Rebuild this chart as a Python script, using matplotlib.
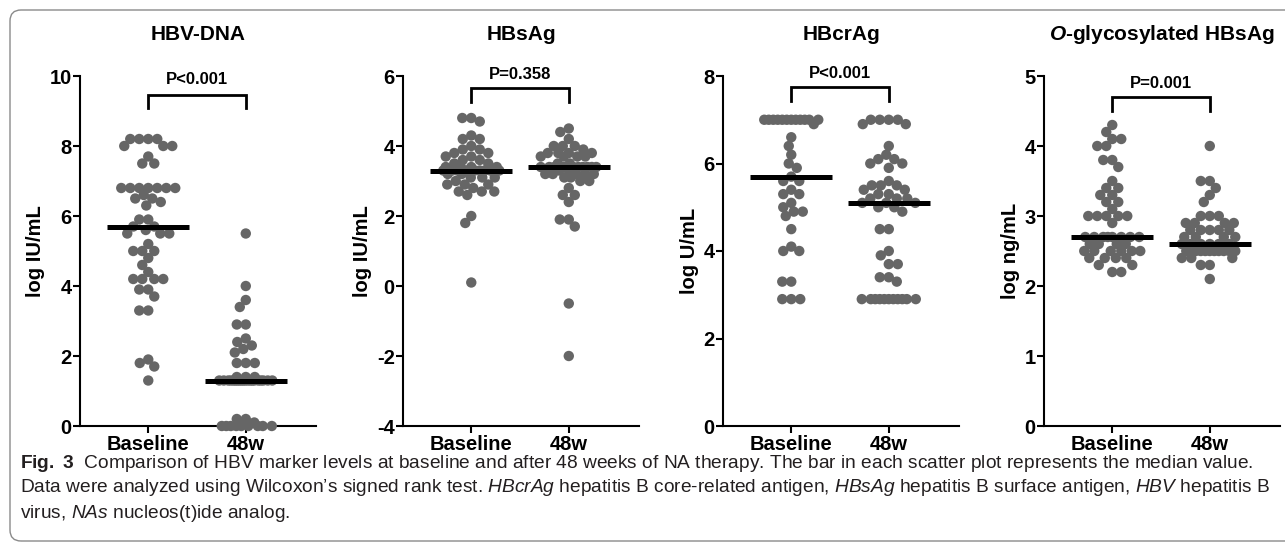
import numpy as np
import matplotlib
matplotlib.use('Agg')
import matplotlib.pyplot as plt
from matplotlib import font_manager
from matplotlib.patches import FancyBboxPatch
from matplotlib.transforms import IdentityTransform, blended_transform_factory

# ---- data ----
groups = ['Baseline', '48w']

titles = ['HBV-DNA', 'HBsAg', 'HBcrAg', r'$\mathbfit{O}$-glycosylated HBsAg']
ylabels = ['log IU/mL', 'log IU/mL', 'log U/mL', 'log ng/mL']
p_labels = ['P<0.001', 'P=0.358', 'P<0.001', 'P=0.001']

hbv_base = [8.2, 8.2, 8.2, 8.2, 8.0, 8.0, 8.0, 7.7, 7.5, 7.5,
            6.8, 6.8, 6.8, 6.8, 6.8, 6.8, 6.8, 6.6, 6.5, 6.5,
            6.4, 6.3, 5.9, 5.9, 5.7, 5.7, 5.6, 5.5, 5.5, 5.5,
            5.2, 5.0, 5.0, 5.0, 4.8, 4.6, 4.4, 4.2, 4.2, 4.2,
            4.2, 3.9, 3.9, 3.7, 3.3, 3.3, 1.9, 1.8, 1.7, 1.3]
hbv_48w = [5.5, 4.0, 3.6, 3.4, 2.9, 2.9, 2.5, 2.4, 2.3, 2.2,
           2.1, 1.8, 1.8, 1.8, 1.4, 1.4, 1.4, 1.3, 1.3, 1.3,
           1.3, 1.3, 1.3, 1.3, 1.3, 1.3, 1.3, 1.3, 1.3, 1.3,
           1.3, 1.3, 1.3, 1.3, 1.3, 1.3, 1.3, 0.2, 0.2, 0.1,
           0.0, 0.0, 0.0, 0.0, 0.0, 0.0, 0.0, 0.0, 0.0]

hbsag_base = [4.8, 4.8, 4.7, 4.3, 4.2, 4.2, 4.0, 3.9, 3.9, 3.8,
              3.8, 3.7, 3.7, 3.6, 3.6, 3.5, 3.5, 3.4, 3.4, 3.4,
              3.4, 3.3, 3.3, 3.3, 3.3, 3.3, 3.3, 3.3, 3.3, 3.3,
              3.2, 3.2, 3.1, 3.1, 3.1, 3.0, 2.9, 2.9, 2.9, 2.8,
              2.7, 2.7, 2.7, 2.6, 2.0, 1.8, 0.1]
hbsag_48w = [4.5, 4.4, 4.2, 4.0, 4.0, 4.0, 3.9, 3.8, 3.8, 3.8,
             3.8, 3.7, 3.7, 3.7, 3.7, 3.5, 3.5, 3.4, 3.4, 3.4,
             3.4, 3.4, 3.4, 3.4, 3.4, 3.4, 3.4, 3.3, 3.3, 3.2,
             3.2, 3.2, 3.2, 3.2, 3.1, 3.1, 3.0, 3.0, 2.8, 2.6,
             2.6, 2.4, 1.9, 1.9, 1.7, -0.5, -2.0]

hbcrag_base = [7.0, 7.0, 7.0, 7.0, 7.0, 7.0, 7.0, 7.0, 7.0, 7.0,
               7.0, 7.0, 6.9, 6.6, 6.4, 6.2, 6.0, 5.9, 5.7, 5.6,
               5.6, 5.4, 5.3, 5.3, 5.1, 5.0, 4.9, 4.9, 4.8, 4.5,
               4.1, 4.0, 4.0, 3.3, 3.3, 2.9, 2.9, 2.9]
hbcrag_48w = [7.0, 7.0, 7.0, 7.0, 6.9, 6.9, 6.4, 6.2, 6.1, 6.1,
              6.0, 6.0, 5.9, 5.6, 5.5, 5.5, 5.5, 5.4, 5.4, 5.3,
              5.3, 5.2, 5.2, 5.2, 5.1, 5.1, 5.1, 5.0, 5.0, 4.9,
              4.5, 4.5, 4.0, 3.9, 3.7, 3.7, 3.4, 3.4, 3.3, 2.9,
              2.9, 2.9, 2.9, 2.9, 2.9, 2.9, 2.9, 2.9, 2.9, 2.9]

oglyco_base = [4.3, 4.2, 4.1, 4.1, 4.0, 4.0, 3.8, 3.8, 3.7, 3.5,
               3.4, 3.4, 3.3, 3.3, 3.2, 3.2, 3.1, 3.0, 3.0, 3.0,
               3.0, 3.0, 2.9, 2.7, 2.7, 2.7, 2.7, 2.7, 2.7, 2.7,
               2.7, 2.6, 2.6, 2.6, 2.6, 2.5, 2.5, 2.5, 2.5, 2.5,
               2.5, 2.4, 2.4, 2.4, 2.4, 2.3, 2.3, 2.2, 2.2]
oglyco_48w = [4.0, 3.5, 3.5, 3.4, 3.3, 3.2, 3.0, 3.0, 3.0, 2.9,
              2.9, 2.9, 2.9, 2.8, 2.8, 2.8, 2.8, 2.8, 2.7, 2.7,
              2.7, 2.7, 2.6, 2.6, 2.6, 2.6, 2.6, 2.6, 2.5, 2.5,
              2.5, 2.5, 2.5, 2.5, 2.5, 2.5, 2.5, 2.5, 2.4, 2.4,
              2.4, 2.3, 2.3, 2.1]

medians = [(5.7, 1.3), (3.3, 3.4), (5.7, 5.1), (2.7, 2.6)]
series = [(hbv_base, hbv_48w), (hbsag_base, hbsag_48w),
          (hbcrag_base, hbcrag_48w), (oglyco_base, oglyco_48w)]
ylims = [(0, 10), (-4, 6), (0, 8), (0, 5)]
ysteps = [2, 2, 2, 1]

caption = [
    r"$\mathbf{Fig.\ 3}$  Comparison of HBV marker levels at baseline and after 48 weeks of NA therapy. "
    r"The bar in each scatter plot represents the median value.",
    r"Data were analyzed using Wilcoxon’s signed rank test. $\mathit{HBcrAg}$ hepatitis B core-related antigen, "
    r"$\mathit{HBsAg}$ hepatitis B surface antigen, $\mathit{HBV}$ hepatitis B",
    r"virus, $\mathit{NAs}$ nucleos(t)ide analog.",
]


def pick_font(names):
    for n in names:
        try:
            font_manager.findfont(font_manager.FontProperties(family=n), fallback_to_default=False)
            return n
        except ValueError:
            continue
    return 'DejaVu Sans'


def swarm_x(ax, center, values, step=9.0, half_width=28):
    # prism-like dot layout, done in pixel space
    vals = np.asarray(values, dtype=float)
    tr = ax.transData
    ypix = tr.transform(np.column_stack([np.full(vals.size, center), vals]))[:, 1]
    x0 = tr.transform([[center, 0]])[0, 0]
    cands = np.arange(-half_width, half_width + 0.01, 0.5)
    cands = cands[np.argsort(np.abs(cands), kind='stable')]
    offs = np.zeros(vals.size)
    done = []
    for i in np.argsort(-vals, kind='stable'):
        near = [j for j in done if abs(ypix[j] - ypix[i]) < step]
        if near:
            dx = cands[:, None] - offs[near][None, :]
            dy = ypix[near][None, :] - ypix[i]
            dist = np.hypot(dx, dy).min(axis=1)
            free = dist >= step
            offs[i] = cands[np.argmax(free)] if free.any() else cands[np.argmax(dist)]
        done.append(i)
    return tr.inverted().transform(np.column_stack([x0 + offs, ypix]))[:, 0]


plt.rcParams['font.family'] = ['Liberation Sans', 'DejaVu Sans']
plt.rcParams['axes.unicode_minus'] = False
cap_font = pick_font(['Liberation Sans Narrow', 'Liberation Sans'])
plt.rcParams['mathtext.fontset'] = 'custom'
plt.rcParams['mathtext.rm'] = cap_font
plt.rcParams['mathtext.it'] = cap_font + ':italic'
plt.rcParams['mathtext.bf'] = cap_font + ':bold'
plt.rcParams['mathtext.bfit'] = 'Liberation Sans:italic:bold'

W, H = 1285, 542
fig = plt.figure(figsize=(W / 100, H / 100), dpi=100)
fig.patch.set_facecolor('white')

frame = FancyBboxPatch((10, 1), 1500, 531, boxstyle='round,pad=0,rounding_size=11',
                       transform=IdentityTransform(), facecolor='none',
                       edgecolor='#8a8a8a', linewidth=1.0)
fig.add_artist(frame)

ax_left = [80, 403, 723, 1044]
ax_w, top_px, bot_px = 236, 76, 426
dot_color = '#666666'
bracket_y = [(0.909, 0.946, 0.989), (0.926, 0.966, 1.003),
             (0.930, 0.968, 1.008), (0.900, 0.940, 0.980)]

for k in range(4):
    ax = fig.add_axes([ax_left[k] / W, 1 - bot_px / H, ax_w / W, (bot_px - top_px) / H])
    lo, hi = ylims[k]
    ax.set_xlim(-0.7, 1.72)
    ax.set_ylim(lo, hi)
    for s in ['top', 'right']:
        ax.spines[s].set_visible(False)
    for s in ['left', 'bottom']:
        ax.spines[s].set_linewidth(1.5)

    for g in range(2):
        vals = series[k][g]
        xs = swarm_x(ax, g, vals)
        ax.scatter(xs, vals, s=56, color=dot_color, edgecolors='none', zorder=3, clip_on=False)
        ax.hlines(medians[k][g], g - 0.42, g + 0.42, color='black', lw=3.6, zorder=4)

    yt = np.arange(lo, hi + 0.001, ysteps[k])
    ax.set_yticks(yt, labels=[f'{int(v)}' for v in yt], fontsize=14.5, fontweight='bold')
    ax.set_xticks([0, 1], labels=groups, fontsize=14.5, fontweight='bold')
    ax.tick_params(axis='y', length=5, width=1.5, pad=1)
    ax.tick_params(axis='x', length=5, width=1.5, pad=1.5)
    ax.set_ylabel(ylabels[k], fontsize=14.5, fontweight='bold', labelpad=3.5)

    b_lo, b_hi, t_y = bracket_y[k]
    tb = blended_transform_factory(ax.transData, ax.transAxes)
    ax.plot([0, 0, 1, 1], [b_lo, b_hi, b_hi, b_lo], color='black', lw=2,
            transform=tb, clip_on=False, solid_joinstyle='miter')
    ax.text(0.5, t_y, p_labels[k], transform=tb, ha='center', va='center',
            fontsize=12, fontweight='bold', clip_on=False)

    fig.text((ax_left[k] + ax_w / 2) / W, 1 - 35 / H, titles[k], ha='center', va='center',
             fontsize=15, fontweight='bold')

# caption, fitted to the width of the first line
renderer = fig.canvas.get_renderer()
cap_y = [463, 488, 513]
cap_texts = [fig.text(20 / W, 1 - y / H, line, ha='left', va='center', fontsize=11,
                      family=cap_font, color='#231f20')
             for line, y in zip(caption, cap_y)]
w1 = cap_texts[0].get_window_extent(renderer).width
fs = 11 * 1235 / w1
for t in cap_texts:
    t.set_fontsize(fs)

fig.savefig('out.png', dpi=100, facecolor='white')
